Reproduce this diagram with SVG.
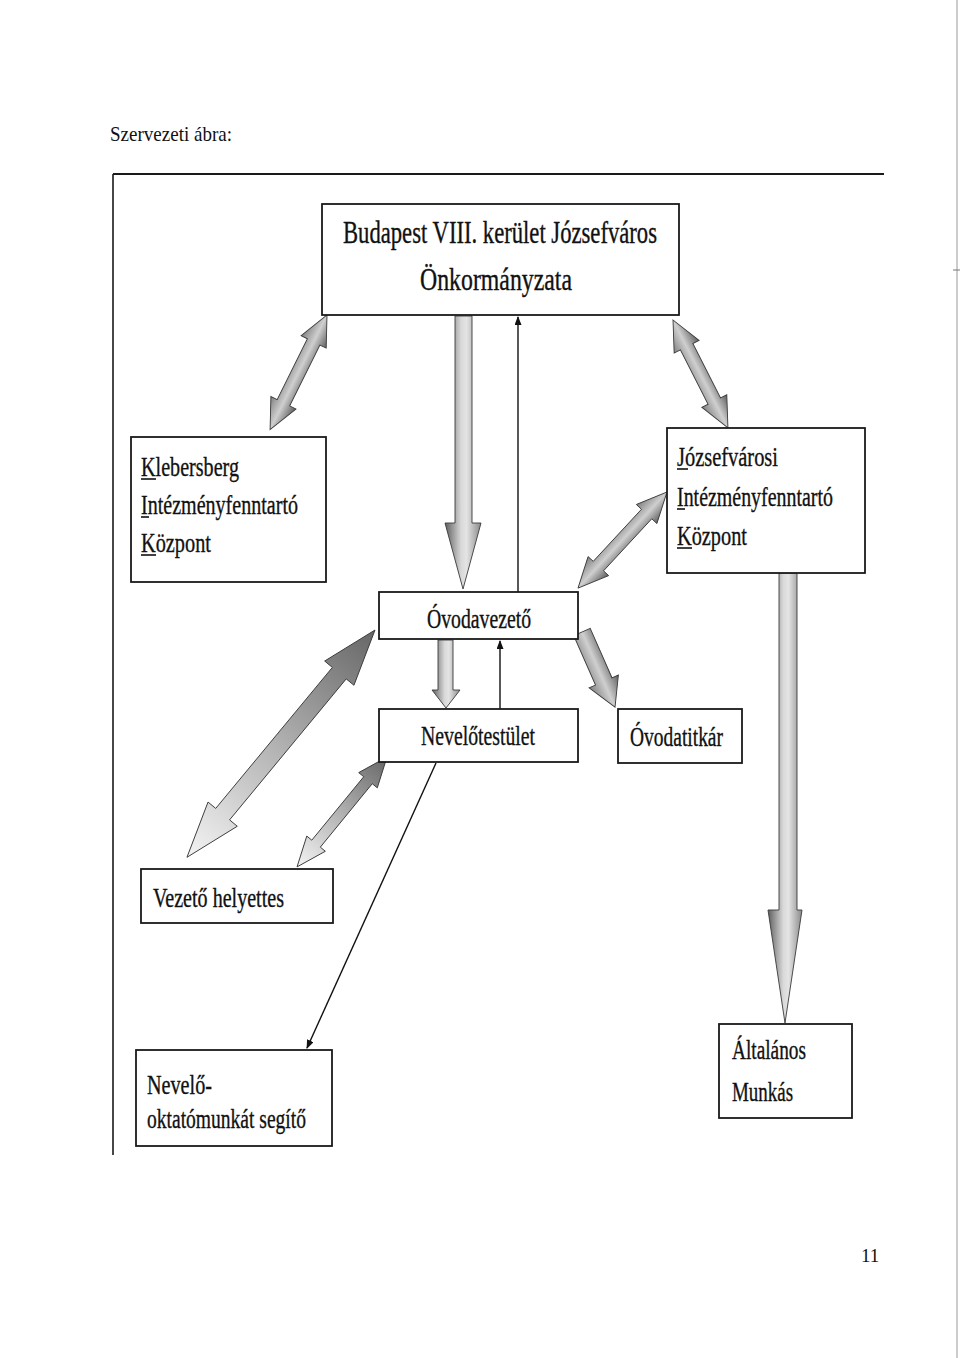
<svg xmlns="http://www.w3.org/2000/svg" width="960" height="1358" viewBox="0 0 960 1358">
<defs>
<style>
.box{fill:#fff;stroke:#1a1a1a;stroke-width:1.8}
.t{font-family:"Liberation Serif","Times New Roman",serif;fill:#111;stroke:#111;stroke-width:0.35}
.pg{font-family:"Liberation Serif","Times New Roman",serif;fill:#111}
.ul{stroke:#111;stroke-width:1.6}
.thin{stroke:#111;stroke-width:1.4;fill:none}
.blk{stroke:#3a3a3a;stroke-width:0.9}
</style>
<linearGradient id="gV" x1="0" y1="0" x2="1" y2="0">
<stop offset="0" stop-color="#5e5e5e"/>
<stop offset="0.45" stop-color="#d9d9d9"/>
<stop offset="0.6" stop-color="#e4e4e4"/>
<stop offset="1" stop-color="#8a8a8a"/>
</linearGradient>
<linearGradient id="gAcross" x1="0" y1="0" x2="0" y2="1">
<stop offset="0" stop-color="#5e5e5e"/>
<stop offset="0.5" stop-color="#cfcfcf"/>
<stop offset="1" stop-color="#808080"/>
</linearGradient>
<linearGradient id="gAlong" x1="0" y1="0" x2="1" y2="0">
<stop offset="0" stop-color="#666"/>
<stop offset="0.5" stop-color="#b0b0b0"/>
<stop offset="1" stop-color="#f4f4f4"/>
</linearGradient>
<marker id="ah" markerWidth="9" markerHeight="7" refX="8" refY="3.5" orient="auto" markerUnits="userSpaceOnUse">
<path d="M0,0 L9,3.5 L0,7 Z" fill="#111"/>
</marker>
</defs>
<rect width="960" height="1358" fill="#fff"/>

<!-- page decorations -->
<line x1="957" y1="0" x2="957" y2="1358" stroke="#9a9a9a" stroke-width="1"/>
<line x1="953" y1="270" x2="960" y2="270" stroke="#777" stroke-width="1"/>
<text x="110" y="141" class="pg" font-size="21" textLength="122" lengthAdjust="spacingAndGlyphs">Szervezeti ábra:</text>
<text x="861" y="1262" class="pg" font-size="19">11</text>

<!-- outer frame -->
<g id="frame">
<line x1="113" y1="174" x2="884" y2="174" stroke="#1a1a1a" stroke-width="2"/>
<line x1="113" y1="174" x2="113" y2="1155" stroke="#1a1a1a" stroke-width="1.6"/>
</g>

<!-- connectors -->
<g id="connectors">
<path class="blk" fill="url(#gAcross)" transform="translate(327,315) rotate(116.4)" d="M0,0 L30,-14 L30,-7 L98,-7 L98,-14 L128,0 L98,14 L98,7 L30,7 L30,14 Z"/>
<path class="blk" fill="url(#gAcross)" transform="translate(673,320) rotate(63)" d="M0,0 L30,-14 L30,-7 L91,-7 L91,-14 L121,0 L91,14 L91,7 L30,7 L30,14 Z"/>
<path class="blk" fill="url(#gAcross)" transform="translate(667,492) rotate(132.8)" d="M0,0 L30,-14 L30,-7 L101,-7 L101,-14 L131,0 L101,14 L101,7 L30,7 L30,14 Z"/>
<path class="blk" fill="url(#gV)" d="M455,316 L472,316 L472,523 L481,523 L463,589 L445,523 L455,523 Z"/>
<line class="thin" x1="518" y1="592" x2="518" y2="317" marker-end="url(#ah)"/>
<path class="blk" fill="url(#gAcross)" transform="translate(582,632) rotate(66.25)" d="M0,-9 L54,-9 L54,-16 L82,0 L54,16 L54,9 L0,9 Z"/>
<path class="blk" fill="url(#gV)" d="M438,640 L453,640 L453,690 L460,690 L446,708 L432,690 L438,690 Z"/>
<line class="thin" x1="500" y1="709" x2="500" y2="641" marker-end="url(#ah)"/>
<path class="blk" fill="url(#gAlong)" transform="translate(375,630) rotate(129.6)" d="M0,0 L56,-19 L56,-9 L239,-9 L239,-19 L295,0 L239,19 L239,9 L56,9 L56,19 Z"/>
<path class="blk" fill="url(#gAlong)" transform="translate(387,757) rotate(129.3)" d="M0,0 L30,-12 L30,-5.5 L112,-5.5 L112,-12 L142,0 L112,12 L112,5.5 L30,5.5 L30,12 Z"/>
<line class="thin" x1="436" y1="763" x2="307" y2="1048" marker-end="url(#ah)"/>
<path class="blk" fill="url(#gV)" d="M779,573 L797,573 L797,910 L802,910 L785,1023 L768,910 L779,910 Z"/>
</g>

<!-- nodes -->
<g id="budapest">
<rect class="box" x="322" y="204" width="357" height="111"/>
<text class="t" x="343" y="243" font-size="31" textLength="314" lengthAdjust="spacingAndGlyphs">Budapest VIII. kerület Józsefváros</text>
<text class="t" x="420" y="290" font-size="31" textLength="152" lengthAdjust="spacingAndGlyphs">Önkormányzata</text>
</g>

<g id="klebersberg">
<rect class="box" x="131" y="437" width="195" height="145"/>
<text class="t" x="141" y="476" font-size="28" textLength="98" lengthAdjust="spacingAndGlyphs">Klebersberg</text>
<text class="t" x="141" y="514" font-size="28" textLength="157" lengthAdjust="spacingAndGlyphs">Intézményfenntartó</text>
<text class="t" x="141" y="552" font-size="28" textLength="70" lengthAdjust="spacingAndGlyphs">Központ</text>
<line class="ul" x1="141" y1="479" x2="156" y2="479"/>
<line class="ul" x1="141" y1="517" x2="149" y2="517"/>
<line class="ul" x1="141" y1="555" x2="156" y2="555"/>
</g>

<g id="jozsefvarosi">
<rect class="box" x="667" y="428" width="198" height="145"/>
<text class="t" x="677" y="466" font-size="28" textLength="101" lengthAdjust="spacingAndGlyphs">Józsefvárosi</text>
<text class="t" x="677" y="506" font-size="28" textLength="156" lengthAdjust="spacingAndGlyphs">Intézményfenntartó</text>
<text class="t" x="677" y="545" font-size="28" textLength="70" lengthAdjust="spacingAndGlyphs">Központ</text>
<line class="ul" x1="677" y1="469" x2="688" y2="469"/>
<line class="ul" x1="677" y1="509" x2="685" y2="509"/>
<line class="ul" x1="677" y1="548" x2="692" y2="548"/>
</g>

<g id="ovodavezeto">
<rect class="box" x="379" y="592" width="199" height="47"/>
<text class="t" x="427" y="628" font-size="27" textLength="104" lengthAdjust="spacingAndGlyphs">Óvodavezető</text>
</g>

<g id="nevelotestulet">
<rect class="box" x="379" y="709" width="199" height="53"/>
<text class="t" x="421" y="745" font-size="27" textLength="114" lengthAdjust="spacingAndGlyphs">Nevelőtestület</text>
</g>

<g id="ovodatitkar">
<rect class="box" x="618" y="709" width="124" height="54"/>
<text class="t" x="630" y="746" font-size="27" textLength="93" lengthAdjust="spacingAndGlyphs">Óvodatitkár</text>
</g>

<g id="vezetohelyettes">
<rect class="box" x="141" y="869" width="192" height="54"/>
<text class="t" x="153" y="907" font-size="27" textLength="131" lengthAdjust="spacingAndGlyphs">Vezető helyettes</text>
</g>

<g id="nevelooktato">
<rect class="box" x="136" y="1050" width="196" height="96"/>
<text class="t" x="147" y="1094" font-size="27" textLength="65" lengthAdjust="spacingAndGlyphs">Nevelő-</text>
<text class="t" x="147" y="1128" font-size="27" textLength="159" lengthAdjust="spacingAndGlyphs">oktatómunkát segítő</text>
</g>

<g id="altalanos">
<rect class="box" x="719" y="1024" width="133" height="94"/>
<text class="t" x="732" y="1059" font-size="27" textLength="74" lengthAdjust="spacingAndGlyphs">Általános</text>
<text class="t" x="732" y="1101" font-size="27" textLength="61" lengthAdjust="spacingAndGlyphs">Munkás</text>
</g>
</svg>
